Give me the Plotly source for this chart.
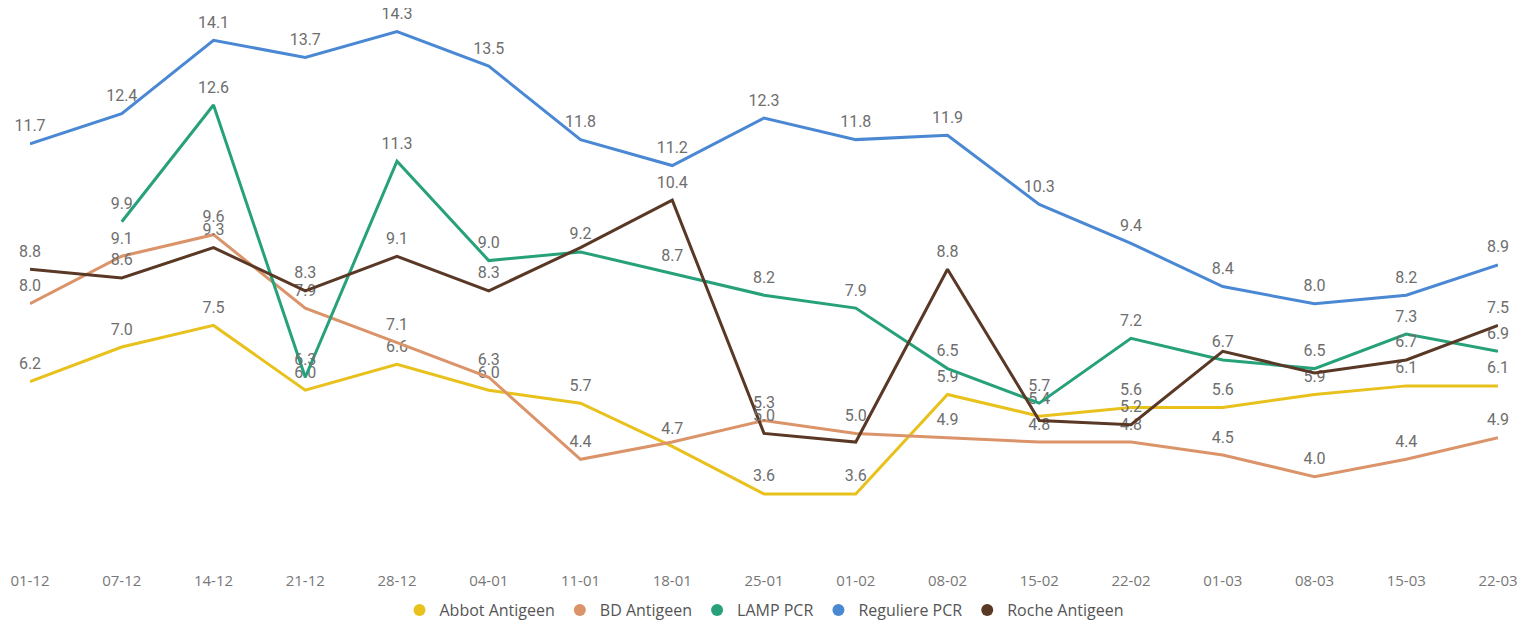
import plotly.graph_objects as go

weeks = ["01-12", "07-12", "14-12", "21-12", "28-12", "04-01", "11-01", "18-01", "25-01",
         "01-02", "08-02", "15-02", "22-02", "01-03", "08-03", "15-03", "22-03"]

abbot_antigeen = [6.2, 7.0, 7.5, 6.0, 6.6, 6.0, 5.7, 4.7, 3.6, 3.6, 5.9, 5.4, 5.6, 5.6, 5.9, 6.1, 6.1]
bd_antigeen = [8.0, 9.1, 9.6, 7.9, 7.1, 6.3, 4.4, 4.8, 5.3, 5.0, 4.9, 4.8, 4.8, 4.5, 4.0, 4.4, 4.9]
lamp_pcr = [None, 9.9, 12.6, 6.3, 11.3, 9.0, 9.2, 8.7, 8.2, 7.9, 6.5, 5.7, 7.2, 6.7, 6.5, 7.3, 6.9]
reguliere_pcr = [11.7, 12.4, 14.1, 13.7, 14.3, 13.5, 11.8, 11.2, 12.3, 11.8, 11.9, 10.3, 9.4, 8.4, 8.0, 8.2, 8.9]
roche_antigeen = [8.8, 8.6, 9.3, 8.3, 9.1, 8.3, 9.3, 10.4, 5.0, 4.8, 8.8, 5.3, 5.2, 6.9, 6.4, 6.7, 7.5]

# labels hidden by overlap in the reference (indices into weeks)
hidden = {
    "BD Antigeen": [7],
    "Roche Antigeen": [6, 9, 11, 13, 14],
}

series = [
    ("Abbot Antigeen", abbot_antigeen, "#E8C11C"),
    ("BD Antigeen", bd_antigeen, "#DB946A"),
    ("LAMP PCR", lamp_pcr, "#27A17A"),
    ("Reguliere PCR", reguliere_pcr, "#4A88D4"),
    ("Roche Antigeen", roche_antigeen, "#5A3826"),
]

fig = go.Figure()
xs = list(range(len(weeks)))
for name, vals, color in series:
    hid = hidden.get(name, [])
    text = ["" if (v is None or i in hid) else f"{v:.1f}" for i, v in enumerate(vals)]
    fig.add_trace(go.Scatter(
        x=xs, y=vals, mode="lines+markers+text", name=name,
        line=dict(color=color, width=3),
        marker=dict(size=12, color="rgba(0,0,0,0)"),
        text=text, textposition="top center",
        textfont=dict(family="Roboto, DejaVu Sans", size=16, color="#6E6E6E"),
        cliponaxis=False, showlegend=False, connectgaps=False,
    ))

for name, vals, color in series:
    fig.add_trace(go.Scatter(
        x=[None], y=[None], mode="markers", name=name,
        marker=dict(color=color, size=11, symbol="circle"),
        showlegend=True,
    ))

fig.update_layout(
    width=1518, height=615,
    margin=dict(l=22, r=28, t=2, b=63, autoexpand=False),
    paper_bgcolor="white", plot_bgcolor="white",
    showlegend=True,
    legend=dict(orientation="h", x=0.5, xanchor="center", y=-0.091, yanchor="middle",
                font=dict(family="Open Sans, Segoe UI", size=16, color="#555555"),
                itemsizing="constant", itemwidth=30, tracegroupgap=0),
    xaxis=dict(range=[0, 16], tickvals=xs, ticktext=weeks, showgrid=False, zeroline=False,
               showline=False, ticks="", ticklabelstandoff=10, automargin=False,
               tickfont=dict(family="Open Sans, Segoe UI", size=15, color="#777777")),
    yaxis=dict(range=[2.07, 14.8], visible=False, showgrid=False, zeroline=False,
               automargin=False),
)

fig.write_html("out.html")
